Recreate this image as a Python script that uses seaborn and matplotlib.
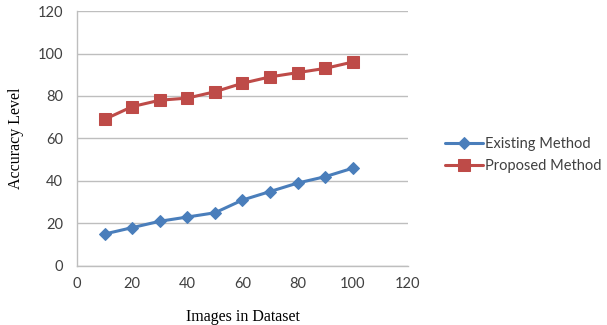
import matplotlib
matplotlib.use("Agg")
import matplotlib.pyplot as plt
import seaborn as sns
import pandas as pd

images = [10, 20, 30, 40, 50, 60, 70, 80, 90, 100]
existing = [15, 18, 21, 23, 25, 31, 35, 39, 42, 46]
proposed = [69, 75, 78, 79, 82, 86, 89, 91, 93, 96]
series_names = ["Existing Method", "Proposed Method"]
x_ticks = [0, 20, 40, 60, 80, 100, 120]
y_ticks = [0, 20, 40, 60, 80, 100, 120]

df = pd.DataFrame({
    "Images": images * 2,
    "Accuracy": existing + proposed,
    "Method": [series_names[0]] * len(images) + [series_names[1]] * len(images),
})

sns.set_style("white")
plt.rcParams['font.family'] = ['Lato', 'DejaVu Sans']

fig = plt.figure(figsize=(6.07, 3.25), dpi=100)
ax = fig.add_axes([0.127, 0.182, 0.545, 0.784])

palette = {series_names[0]: "#4A7EBB", series_names[1]: "#BE4B48"}
markers = {series_names[0]: "D", series_names[1]: "s"}
sizes = {series_names[0]: 6.5, series_names[1]: 8.5}
for name in series_names:
    sub = df[df["Method"] == name]
    sns.lineplot(data=sub, x="Images", y="Accuracy", ax=ax, color=palette[name],
                 marker=markers[name], markersize=sizes[name], linewidth=2.2,
                 markeredgecolor=palette[name], label=name)

ax.set_xlim(0, 120)
ax.set_ylim(0, 120)
ax.set_xticks(x_ticks)
ax.set_yticks(y_ticks)
ax.yaxis.grid(True, color="#BEBEBE", linewidth=1)
ax.xaxis.grid(False)
for s in ["top", "right"]:
    ax.spines[s].set_visible(False)
for s in ["left", "bottom"]:
    ax.spines[s].set_color("#BEBEBE")
    ax.spines[s].set_linewidth(1)
ax.tick_params(axis="both", which="both", length=4, color="#BEBEBE",
               labelsize=10.5, labelcolor="#404040", direction="out")
ax.tick_params(axis="y", pad=6)
ax.tick_params(axis="x", pad=4)
ax.set_xlabel("Images in Dataset", family="Liberation Serif", fontsize=11.5,
              color="black", labelpad=13)
ax.set_ylabel("Accuracy Level", family="Liberation Serif", fontsize=11.5,
              color="black", labelpad=10)

leg = ax.legend(loc="center left", bbox_to_anchor=(1.095, 0.435), frameon=False,
                fontsize=10.5, handlelength=2.6, labelspacing=0.6, handletextpad=0.15,
                borderaxespad=0)
for t in leg.get_texts():
    t.set_color("#404040")

fig.savefig("out.png", dpi=100)
